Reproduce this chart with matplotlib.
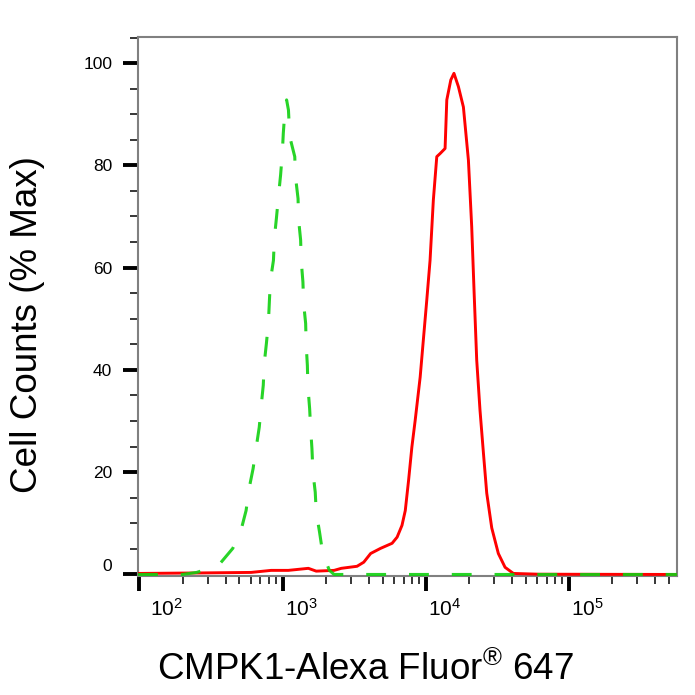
import numpy as np
import matplotlib
matplotlib.use("Agg")
import matplotlib.pyplot as plt
import matplotlib.transforms as mtransforms

plt.rcParams['font.family'] = ['Liberation Sans', 'DejaVu Sans']
plt.rcParams['mathtext.fontset'] = 'custom'
plt.rcParams['mathtext.rm'] = 'Liberation Sans'
plt.rcParams['mathtext.it'] = 'Liberation Sans:italic'

# stained sample (red, solid): log10 intensity vs % max
red_log = [1.99, 2.43, 2.78, 2.92, 3.04, 3.18, 3.235, 3.36, 3.41, 3.52, 3.567, 3.615,
           3.684, 3.765, 3.80, 3.834, 3.857, 3.88, 3.903, 3.926, 3.961, 3.983, 4.007,
           4.03, 4.053, 4.077, 4.10, 4.135, 4.147, 4.175, 4.197, 4.228, 4.263, 4.298,
           4.321, 4.338, 4.356, 4.379, 4.403, 4.426, 4.461, 4.507, 4.554, 4.612, 4.79, 5.76]
red_val = [0.2, 0.3, 0.4, 0.8, 0.8, 1.2, 0.65, 0.8, 1.2, 1.6, 2.4, 4.1,
           5.1, 6.1, 7.3, 9.6, 12.5, 18.4, 24.9, 30.1, 38.6, 45.8, 53.6,
           61.4, 73.2, 81.7, 82.3, 83.3, 92.8, 96.7, 98.0, 95.4, 91.4, 81.0,
           68.0, 55.0, 41.9, 32.1, 23.7, 15.9, 9.1, 4.1, 1.4, 0.2, 0.05, 0.0]

# isotype control (green, dashed)
grn_log = [1.99, 2.30, 2.40, 2.553, 2.652, 2.709, 2.745, 2.766, 2.794, 2.816, 2.837,
           2.851, 2.865, 2.872, 2.887, 2.901, 2.908, 2.915, 2.936, 2.943, 2.957, 2.972,
           2.986, 2.998, 3.005, 3.015, 3.028, 3.041, 3.05, 3.085, 3.09, 3.108, 3.112,
           3.126, 3.13, 3.142, 3.147, 3.161, 3.165, 3.173, 3.177, 3.189, 3.196, 3.205,
           3.212, 3.228, 3.235, 3.258, 3.281, 3.327, 3.36, 5.76]
grn_val = [0.0, 0.0, 0.4, 1.8, 5.1, 8.6, 12.5, 16.8, 20.7, 24.9, 28.8,
           33.1, 37.0, 41.3, 45.2, 49.3, 53.6, 57.5, 61.4, 65.9, 69.7, 74.2,
           78.1, 82.4, 86.3, 90.2, 92.8, 90.8, 85.6, 81.7, 77.8, 73.5, 69.3,
           65.4, 61.4, 57.2, 53.0, 49.1, 44.8, 40.9, 36.7, 32.4, 28.5, 24.6,
           20.0, 16.1, 12.2, 8.3, 4.0, 0.8, 0.0, 0.0]

xtick_vals = [1e2, 1e3, 1e4, 1e5]
xtick_labels = [r'$10^{2}$', r'$10^{3}$', r'$10^{4}$', r'$10^{5}$']
ytick_vals = [0, 20, 40, 60, 80, 100]

fig = plt.figure(figsize=(6.95, 6.95), dpi=100)
ax = fig.add_axes([138 / 695, 1 - 576 / 695, 539 / 695, 539 / 695])

ax.plot(10 ** np.array(red_log), red_val, color='#ff0000', lw=2.1, zorder=3,
        solid_joinstyle='round')
ax.plot(10 ** np.array(grn_log), grn_val, color='#10d010', lw=2.2, zorder=4,
        alpha=0.9, linestyle=(0, (6.5, 7.5)))

ax.set_xscale('log')
ax.set_xlim(10 ** 1.99, 10 ** 5.755)
ax.set_ylim(-0.3, 105.1)

ax.set_xticks(xtick_vals)
ax.set_xticklabels(xtick_labels, fontsize=15, ha='left')
ax.xaxis.set_minor_locator(matplotlib.ticker.LogLocator(base=10, subs=np.arange(2, 10)))
ax.xaxis.set_minor_formatter(matplotlib.ticker.NullFormatter())
ax.set_yticks(ytick_vals)
ax.set_yticklabels([str(v) for v in ytick_vals], fontsize=12.5)
ax.set_yticks(np.arange(5, 106, 5), minor=True)

ax.tick_params(axis='both', which='major', direction='out', length=10.5, width=2.8,
               color='black')
ax.tick_params(axis='both', which='minor', direction='out', length=5.5, width=1.1,
               color='black')
ax.tick_params(axis='y', which='major', pad=8)
ax.tick_params(axis='x', which='major', pad=5)

# shift the x labels a little right of their ticks
for i, lab in enumerate(ax.get_xticklabels()):
    dx = 7.7 / 72 if i == 0 else 1.8 / 72
    lab.set_transform(lab.get_transform() +
                      mtransforms.ScaledTranslation(dx, 0, fig.dpi_scale_trans))
# the "0" label sits a bit above its tick
lab0 = ax.get_yticklabels()[0]
lab0.set_transform(lab0.get_transform() +
                   mtransforms.ScaledTranslation(0, 6.5 / 72, fig.dpi_scale_trans))

for s in ax.spines.values():
    s.set_color('#808080')
    s.set_linewidth(1.5)

fig.text(365 / 695, 1 - 680 / 695, 'CMPK1-Alexa Fluor$^{\\mathrm{®}}$ 647',
         fontsize=26.5, ha='center', va='baseline')
fig.text(27.5 / 695, 1 - 325 / 695, 'Cell Counts (% Max)', fontsize=26.5,
         rotation=90, ha='center', va='center')

fig.savefig('out.png', dpi=100)
